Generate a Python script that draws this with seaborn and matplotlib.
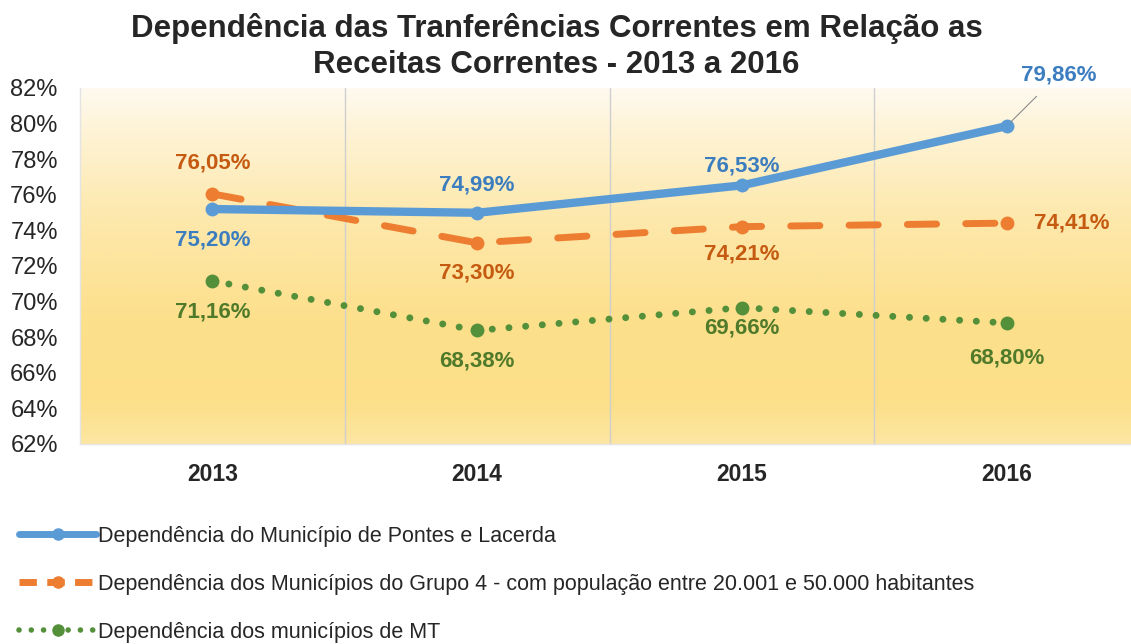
import numpy as np
import pandas as pd
import matplotlib
matplotlib.use('Agg')
import matplotlib.pyplot as plt
import seaborn as sns
from matplotlib.colors import LinearSegmentedColormap
from matplotlib.lines import Line2D

## dados do grafico
anos = ['2013', '2014', '2015', '2016']
pontes_lacerda = [75.20, 74.99, 76.53, 79.86]
grupo4 = [76.05, 73.30, 74.21, 74.41]
municipios_mt = [71.16, 68.38, 69.66, 68.80]

nomes = ['Dependência do Município de Pontes e Lacerda',
         'Dependência dos Municípios do Grupo 4 - com população entre 20.001 e 50.000 habitantes',
         'Dependência dos municípios de MT']
yticks = [62, 64, 66, 68, 70, 72, 74, 76, 78, 80, 82]

sns.set_style('white')
plt.rcParams['font.family'] = ['Liberation Sans', 'DejaVu Sans']

fig = plt.figure(figsize=(11.31, 6.44), dpi=100)
ax = fig.add_axes([80 / 1131, 1 - 444 / 644, (1139 - 80) / 1131, (444 - 88) / 644])

# fundo em degrade
cmap = LinearSegmentedColormap.from_list('fundo', [
    (0.0, '#fde6a2'), (0.12, '#fcdf88'), (0.35, '#fde08c'),
    (0.65, '#fde9ae'), (0.88, '#fef3d6'), (1.0, '#fffaf0')])
grad = np.linspace(0, 1, 256).reshape(-1, 1)
ax.imshow(grad, cmap=cmap, aspect='auto', origin='lower',
          extent=[-0.5, 3.5, 62, 82], zorder=0)

x = np.arange(len(anos))
azul, laranja, verde = '#5b9bd5', '#ed7d31', '#548f3a'

sns.lineplot(x=x, y=pontes_lacerda, ax=ax, color=azul, lw=6, marker='o',
             markersize=10, markeredgewidth=0, zorder=4)
sns.lineplot(x=x, y=grupo4, ax=ax, color=laranja, lw=5, marker='o',
             markersize=10, markeredgewidth=0, linestyle=(0, (4.2, 4.2)),
             dash_capstyle='round', zorder=3)
sns.lineplot(x=x, y=municipios_mt, ax=ax, color=verde, lw=5, marker='o',
             markersize=10, markeredgewidth=0, linestyle=(0, (0.01, 2.4)),
             dash_capstyle='round', zorder=3)

def fmt(v):
    return f'{v:.2f}%'.replace('.', ',')

# rotulos (deslocamentos em pontos)
rot_azul = [(0, -22), (0, 20), (0, 14), None]
rot_lar = [(0, 22), (0, -22), (0, -20), (47, 0)]
rot_verde = [(0, -22), (0, -22), (0, -15), (0, -25)]
for serie, offs, cor in [(pontes_lacerda, rot_azul, '#3b7dbf'),
                         (grupo4, rot_lar, '#c55a11'),
                         (municipios_mt, rot_verde, '#4f7a2a')]:
    for i, (v, o) in enumerate(zip(serie, offs)):
        if o is None:
            continue
        ax.annotate(fmt(v), (x[i], v), xytext=o, textcoords='offset points',
                    ha='center', va='center', fontsize=16, fontweight='bold',
                    color=cor, zorder=6)
ax.annotate(fmt(pontes_lacerda[3]), (x[3], pontes_lacerda[3]), xytext=(10, 37),
            textcoords='offset points', ha='left', va='center', fontsize=16,
            fontweight='bold', color='#3b7dbf', zorder=6,
            arrowprops=dict(arrowstyle='-', color='#8c8c8c', lw=0.8,
                            shrinkA=8, shrinkB=4))

ax.set_xlim(-0.5, 3.5)
ax.set_ylim(62, 82)
ax.set_yticks(yticks)
ax.set_yticklabels([f'{t}%' for t in yticks], fontsize=17)
ax.set_xticks(x)
ax.set_xticklabels(anos, fontsize=16.5, fontweight='bold')
ax.tick_params(axis='x', pad=14, length=0)
ax.tick_params(axis='y', pad=16, length=0)
for xv in [0.5, 1.5, 2.5]:
    ax.axvline(xv, color='#cfcfcf', lw=1, zorder=1)
for s in ['top', 'right']:
    ax.spines[s].set_visible(False)
for s in ['left', 'bottom']:
    ax.spines[s].set_color('#e4e4e4')
    ax.spines[s].set_linewidth(1)

fig.text(0.492, 0.928, 'Dependência das Tranferências Correntes em Relação as\nReceitas Correntes - 2013 a 2016',
         ha='center', va='center', fontsize=22.5, fontweight='bold', linespacing=1.25)

handles = [
    Line2D([], [], color=azul, lw=5, marker='o', markersize=8),
    Line2D([], [], color=laranja, lw=5, marker='o', markersize=8,
           linestyle=(0, (2.5, 1.5))),
    Line2D([], [], color=verde, lw=4, marker='o', markersize=8,
           linestyle=(0, (0.01, 2.2)), dash_capstyle='round'),
]
fig.legend(handles, nomes, loc='upper left', bbox_to_anchor=(0.009, 0.197),
           frameon=False, fontsize=15.5, handlelength=3.6, handletextpad=0.1,
           labelspacing=1.25, borderaxespad=0)

fig.savefig('out.png', dpi=100)
